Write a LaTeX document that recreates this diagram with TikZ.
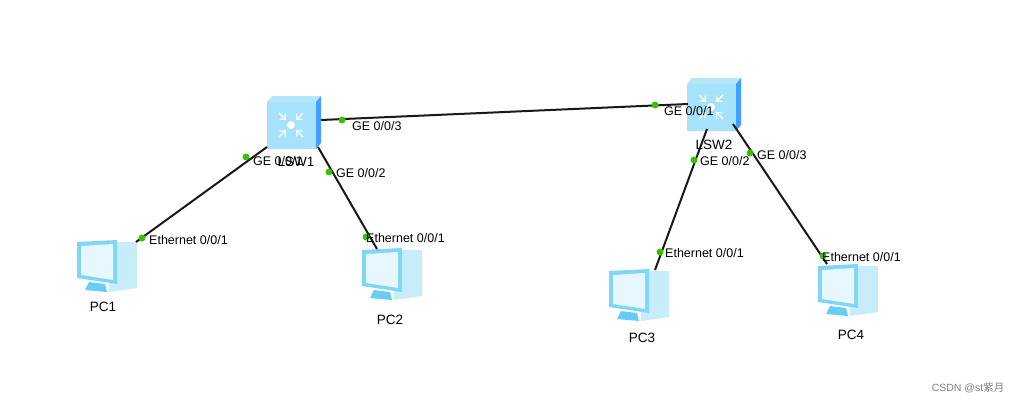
\documentclass[tikz,border=0pt]{standalone}
\usepackage{fontspec}
\setmainfont{Liberation Sans}
\newfontfamily\cjk{Noto Sans CJK SC}
\begin{document}
\begin{tikzpicture}[x=1pt,y=-1pt,
  lbl/.style={anchor=west,inner sep=0pt,font=\fontsize{12.5}{14}\selectfont},
  dev/.style={inner sep=0pt,font=\fontsize{13.5}{15}\selectfont},
  dot/.style={circle,fill=green!65!black!70!lime,inner sep=0pt,minimum size=7pt},
  link/.style={line width=2pt,black!90},
  sw/.pic={
    \fill[cyan!30] (-27,-20) -- (-22,-26) -- (27,-26) -- (22,-20) -- cycle;
    \fill[blue!50!cyan!75] (22,-20) -- (27,-26) -- (27,21) -- (22,27) -- cycle;
    \fill[cyan!35!white] (-27,-20) rectangle (22,27);
    \fill[white] (-3,3) circle (4);
    \foreach \a in {45,135,225,315}{\draw[white,line width=1.3pt,rotate around={\a:(-3,3)}] (-3,-4.5) -- (-3,-14) (-7,-9) -- (-3,-5) -- (1,-9);}
  },
  pc/.pic={
    \fill[cyan!22] (4,-22) -- (10,-26) -- (32,-26) -- (32,20) -- (4,24) -- cycle;
    \fill[cyan!50] (-28,-26) -- (12,-28) -- (12,16) -- (-28,10) -- cycle;
    \fill[cyan!10] (-24,-22) -- (8,-24) -- (8,12) -- (-24,7) -- cycle;
    \fill[cyan!60] (-16,14) -- (0,16) -- (2,24) -- (-20,22) -- cycle;
  }]
\useasboundingbox (0,0) rectangle (1025,404);
\fill[white] (0,0) rectangle (1025,404);
% devices
\pic at (294,122) {sw}; \node[dev,minimum width=54pt,minimum height=54pt] (lsw1) at (294,122) {};
\pic at (714,104) {sw}; \node[dev,minimum width=54pt,minimum height=54pt] (lsw2) at (714,104) {};
\node[dev] at (296,162) {LSW1};
\node[dev] at (714,145) {LSW2};
\pic at (105,268) {pc}; \node[dev,minimum width=60pt,minimum height=56pt] (pc1) at (105,268) {};
\pic at (390,276) {pc}; \node[dev,minimum width=60pt,minimum height=56pt] (pc2) at (390,276) {};
\pic at (637,297) {pc}; \node[dev,minimum width=60pt,minimum height=56pt] (pc3) at (637,297) {};
\pic at (846,292) {pc}; \node[dev,minimum width=60pt,minimum height=56pt] (pc4) at (846,292) {};
\node[dev] at (103,307) {PC1};
\node[dev] at (390,320) {PC2};
\node[dev] at (642,338) {PC3};
\node[dev] at (851,335) {PC4};
% end points
\coordinate (a1) at (267,147); \coordinate (a2) at (136,242);
\coordinate (b1) at (318,147); \coordinate (b2) at (377,249);
\coordinate (c1) at (321,120); \coordinate (c2) at (688,104);
\coordinate (d1) at (707,129); \coordinate (d2) at (655,270);
\coordinate (e1) at (733,124); \coordinate (e2) at (827,264);
\draw[link] (a1) -- (a2); \draw[link] (b1) -- (b2); \draw[link] (c1) -- (c2);
\draw[link] (d1) -- (d2); \draw[link] (e1) -- (e2);
\node[dot] (p1) at (246,157) {}; \node[dot] (p2) at (142,238) {};
\node[dot] (p3) at (329,172) {}; \node[dot] (p4) at (366,237) {};
\node[dot] (p5) at (342,120) {}; \node[dot] (p6) at (655,105) {};
\node[dot] (p7) at (694,160) {}; \node[dot] (p8) at (660,252) {};
\node[dot] (p9) at (750,153) {}; \node[dot] (p10) at (823,256) {};
\node[lbl] at (253,161) {GE 0/0/1};
\node[lbl] at (149,240) {Ethernet 0/0/1};
\node[lbl] at (336,173) {GE 0/0/2};
\node[lbl] at (366,238) {Ethernet 0/0/1};
\node[lbl] at (352,126) {GE 0/0/3};
\node[lbl] at (664,111) {GE 0/0/1};
\node[lbl] at (700,161) {GE 0/0/2};
\node[lbl] at (665,253) {Ethernet 0/0/1};
\node[lbl] at (757,155) {GE 0/0/3};
\node[lbl] at (822,257) {Ethernet 0/0/1};
\node[font=\fontsize{10.5}{12}\selectfont,text=gray] at (968,388) {CSDN @st{\cjk 紫月}};
\end{tikzpicture}
\end{document}
